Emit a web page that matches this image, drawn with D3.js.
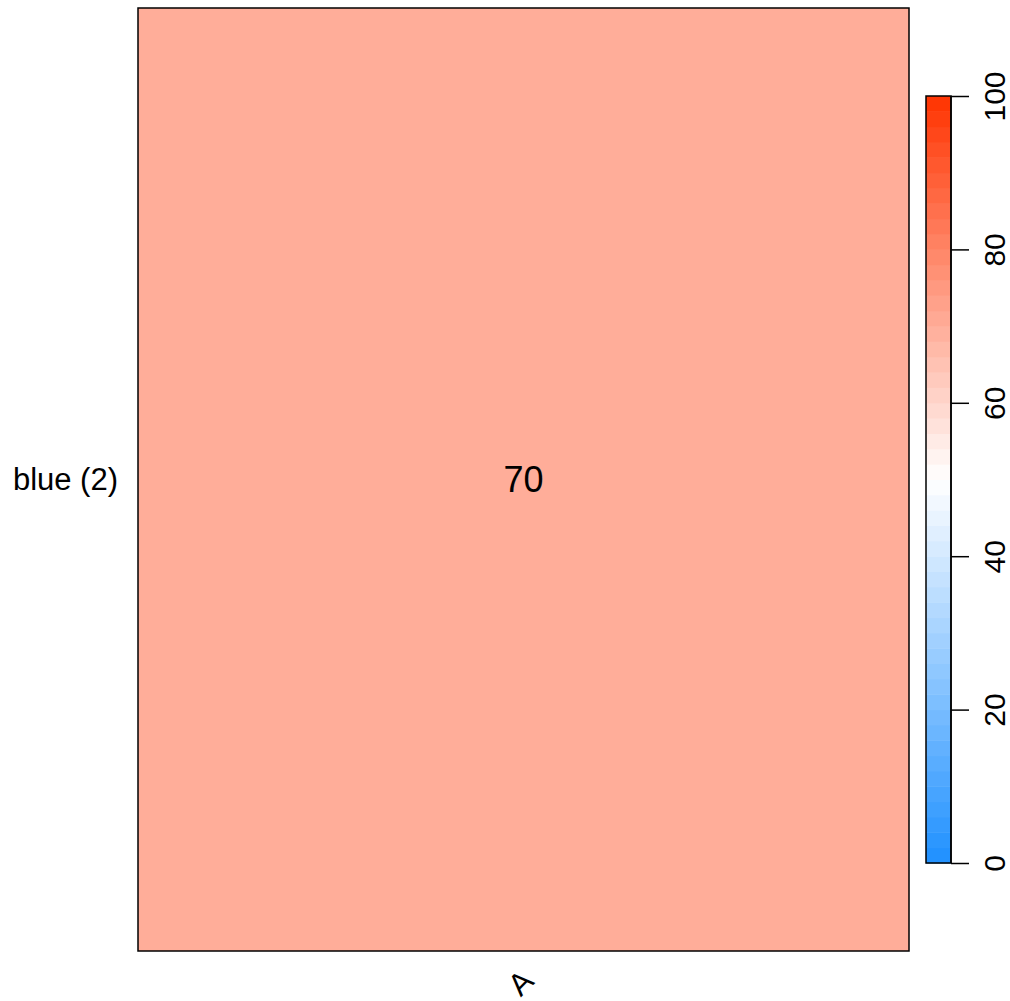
<!DOCTYPE html>
<html><head><meta charset="utf-8">
<script src="https://cdn.jsdelivr.net/npm/d3@7"></script>
<style>body{margin:0;background:#fff}svg{display:block}text{font-family:"Liberation Sans",Arial,sans-serif}</style>
</head><body>
<script>
const rowLabels = ["blue (2)"];
const colLabels = ["A"];
const cellValues = [[70]];
const legendTicks = [0, 20, 40, 60, 80, 100];
const legendDomain = [0, 50, 100];
const legendColors = ["#1E90FF", "#FFFFFF", "#FF3300"];

const W = 1010, H = 1001;
const svg = d3.select("body").append("svg").attr("width", W).attr("height", H);

const plot = {x0: 138, x1: 909, y0: 8, y1: 951};
const x = d3.scaleBand().domain(colLabels).range([plot.x0, plot.x1]);
const y = d3.scaleBand().domain(rowLabels).range([plot.y0, plot.y1]);
const color = d3.scaleLinear().domain(legendDomain).range(legendColors).interpolate(d3.interpolateRgb);

const cells = [];
rowLabels.forEach((r, i) => colLabels.forEach((c, j) => cells.push({r, c, v: cellValues[i][j]})));

svg.selectAll("rect.cell").data(cells).join("rect").attr("class", "cell")
  .attr("x", d => x(d.c)).attr("y", d => y(d.r))
  .attr("width", x.bandwidth()).attr("height", y.bandwidth())
  .attr("fill", d => color(d.v));

svg.selectAll("text.val").data(cells).join("text").attr("class", "val")
  .attr("x", d => x(d.c) + x.bandwidth() / 2).attr("y", d => y(d.r) + y.bandwidth() / 2)
  .attr("text-anchor", "middle").attr("dominant-baseline", "central")
  .attr("font-size", 36).text(d => d.v);

svg.append("rect").attr("x", plot.x0).attr("y", plot.y0)
  .attr("width", plot.x1 - plot.x0).attr("height", plot.y1 - plot.y0)
  .attr("fill", "none").attr("stroke", "#000").attr("stroke-width", 1.5);

// row labels
svg.selectAll("text.row").data(rowLabels).join("text").attr("class", "row")
  .attr("x", plot.x0 - 20).attr("y", d => y(d) + y.bandwidth() / 2)
  .attr("text-anchor", "end").attr("dominant-baseline", "central")
  .attr("font-size", 31).text(d => d);

// column labels rotated
svg.selectAll("text.col").data(colLabels).join("text").attr("class", "col")
  .attr("transform", d => `translate(${x(d) + x.bandwidth() / 2 - 4},${plot.y1 + 16}) rotate(-45)`)
  .attr("text-anchor", "end").attr("dominant-baseline", "hanging")
  .attr("font-size", 31).text(d => d);

// color legend
const leg = {x0: 926, x1: 951, y0: 96, y1: 863};
const ly = d3.scaleLinear().domain([0, 100]).range([leg.y1, leg.y0]);
const nBands = 50;
const bands = d3.range(nBands).map(i => ({a: i * 100 / nBands, b: (i + 1) * 100 / nBands}));
svg.selectAll("rect.band").data(bands).join("rect").attr("class", "band")
  .attr("x", leg.x0).attr("width", leg.x1 - leg.x0)
  .attr("y", d => ly(d.b)).attr("height", d => ly(d.a) - ly(d.b) + 0.5)
  .attr("fill", d => color((d.a + d.b) / 2));
svg.append("rect").attr("x", leg.x0).attr("y", leg.y0)
  .attr("width", leg.x1 - leg.x0).attr("height", leg.y1 - leg.y0)
  .attr("fill", "none").attr("stroke", "#000").attr("stroke-width", 1.5);

const axis = d3.axisRight(ly).tickValues(legendTicks).tickSize(18).tickPadding(0).tickFormat(d3.format("d"));
const ag = svg.append("g").attr("transform", `translate(${leg.x1},0)`).call(axis);
ag.select(".domain").attr("stroke-width", 1.5).attr("d", `M0,${leg.y1}V${leg.y0}`);
ag.selectAll(".tick line").attr("stroke-width", 1.5);
ag.selectAll(".tick text").attr("font-size", 30).attr("fill", "#000")
  .attr("x", 0).attr("dy", null)
  .attr("transform", "translate(43,0) rotate(-90)")
  .attr("text-anchor", "middle").attr("dominant-baseline", "central")
  .style("font-family", '"Liberation Sans",Arial,sans-serif');
</script>
</body></html>
